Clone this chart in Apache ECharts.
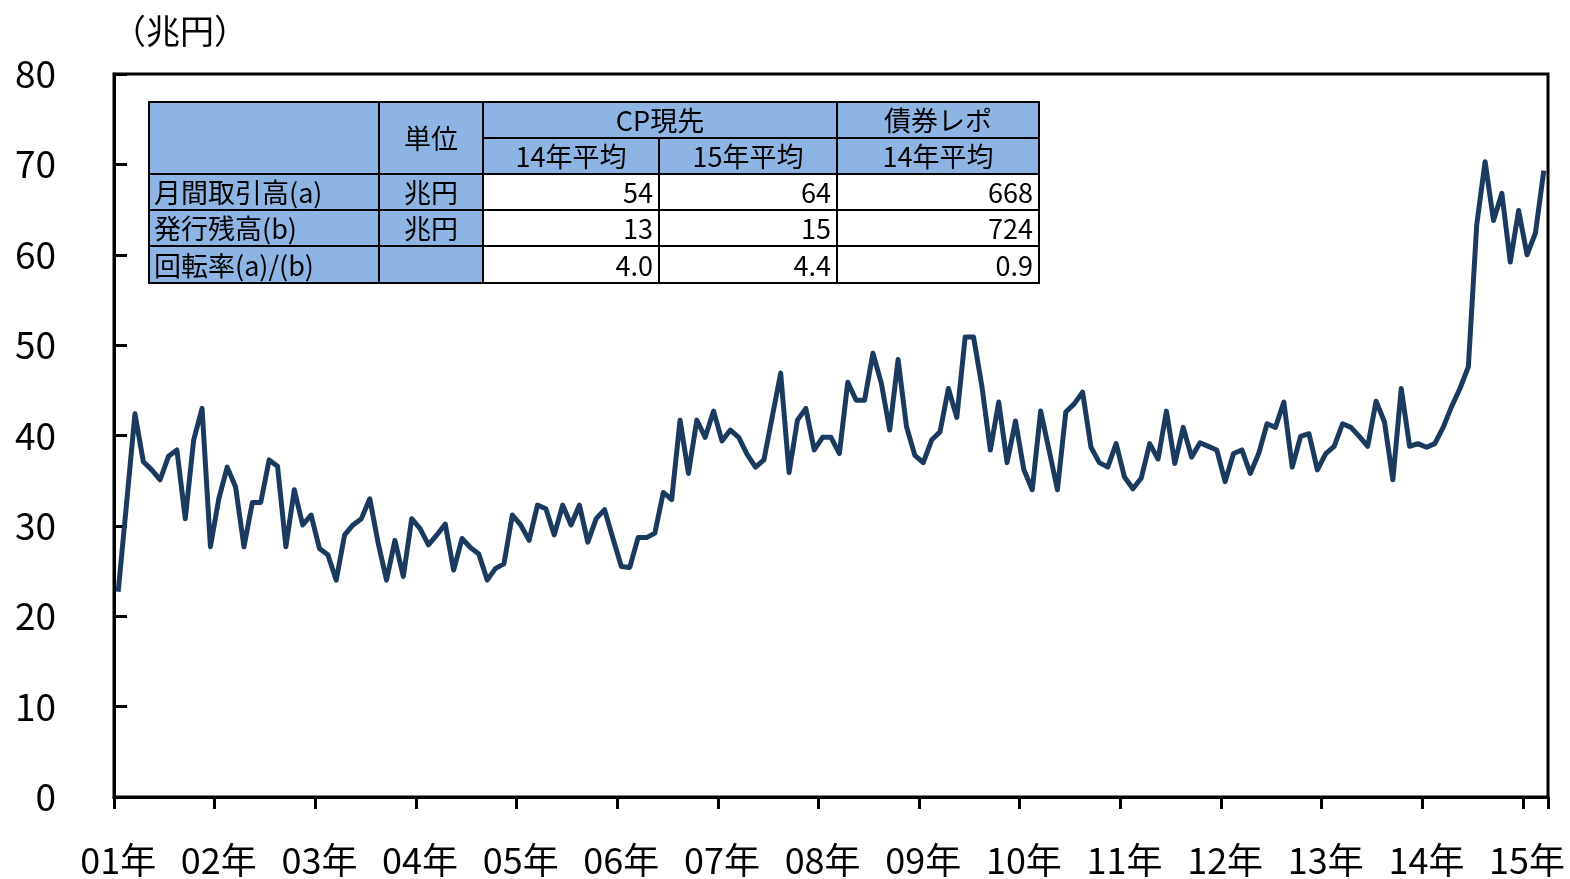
<!DOCTYPE html>
<html lang="ja">
<head>
    <meta charset="UTF-8">
    <script src="https://cdn.jsdelivr.net/npm/echarts@6/dist/echarts.min.js"></script>
    <title>CP現先 月間取引高</title>
    <style>
        html, body { margin: 0; padding: 0; background: #fff; }
        #main { width: 1570px; height: 879px; }
    </style>
</head>
<body>
<div id="main"></div>
<script>
    // 年ラベル（1月に表示）
    var years = ['01', '02', '03', '04', '05', '06', '07', '08', '09', '10', '11', '12', '13', '14', '15'];
    // 月間取引高（兆円）2001年1月～2015年3月
    var volume = [
        22.7, 32.5, 42.4, 37.1, 36.2, 35.1, 37.7, 38.4, 30.8, 39.5, 43.0, 27.7,
        33.0, 36.5, 34.3, 27.7, 32.6, 32.6, 37.3, 36.6, 27.7, 34.0, 30.1, 31.2,
        27.5, 26.8, 24.0, 29.0, 30.1, 30.8, 33.0, 28.1, 24.0, 28.4, 24.4, 30.8,
        29.7, 27.9, 29.0, 30.2, 25.1, 28.6, 27.6, 26.9, 24.0, 25.3, 25.8, 31.2,
        30.1, 28.4, 32.3, 31.9, 29.0, 32.3, 30.1, 32.3, 28.2, 30.8, 31.8, 28.6,
        25.5, 25.4, 28.7, 28.7, 29.2, 33.7, 32.9, 41.7, 35.8, 41.7, 39.8, 42.7,
        39.4, 40.6, 39.8, 37.9, 36.5, 37.3, 42.1, 46.9, 35.9, 41.7, 43.0, 38.4,
        39.8, 39.8, 38.0, 45.9, 43.9, 43.9, 49.1, 45.8, 40.6, 48.4, 41.0, 37.8,
        37.0, 39.5, 40.4, 45.2, 42.0, 50.9, 50.9, 45.4, 38.4, 43.7, 37.0, 41.6,
        36.2, 34.0, 42.7, 38.4, 34.0, 42.6, 43.5, 44.8, 38.7, 37.0, 36.5, 39.1,
        35.4, 34.1, 35.3, 39.1, 37.4, 42.7, 36.9, 40.9, 37.6, 39.2, 38.8, 38.4,
        34.9, 38.0, 38.4, 35.8, 38.0, 41.3, 40.9, 43.7, 36.5, 39.9, 40.2, 36.2,
        38.0, 38.8, 41.3, 40.9, 39.9, 38.8, 43.8, 41.5, 35.1, 45.2, 38.8, 39.1,
        38.7, 39.1, 40.9, 43.2, 45.2, 47.6, 63.3, 70.3, 63.8, 66.8, 59.2, 64.9,
        60.0, 62.4, 69.3
    ];

    // 表の中身
    var tableHead1 = ['', '単位', 'CP現先', '債券レポ'];
    var tableHead2 = ['14年平均', '15年平均', '14年平均'];
    var rowLabels = ['月間取引高(a)', '発行残高(b)', '回転率(a)/(b)'];
    var rowUnits = ['兆円', '兆円', ''];
    var cp14 = ['54', '13', '4.0'];
    var cp15 = ['64', '15', '4.4'];
    var repo14 = ['668', '724', '0.9'];

    var months = [];
    for (var i = 0; i < volume.length; i++) {
        months.push(years[Math.floor(i / 12)] + '年' + (i % 12 + 1) + '月');
    }

    var FONT = '"Noto Sans CJK JP", sans-serif';
    var BLUE = '#8db4e2';

    // 表のレイアウト（ピクセル）
    var cx = [149, 379, 483, 659, 837, 1039];
    var ry = [102, 138, 174, 210, 246, 283];

    var graphics = [];
    function cell(x1, y1, x2, y2, fill, text, align) {
        graphics.push({
            type: 'rect', z: 100,
            shape: {x: x1, y: y1, width: x2 - x1, height: y2 - y1},
            style: {fill: fill, stroke: '#000', lineWidth: 2}
        });
        if (text) {
            var tx = align === 'left' ? x1 + 5 : (align === 'right' ? x2 - 6 : (x1 + x2) / 2);
            graphics.push({
                type: 'text', z: 101,
                x: tx, y: (y1 + y2) / 2 + 1,
                style: {
                    text: text, fill: '#000', font: '27px ' + FONT,
                    align: align || 'center', verticalAlign: 'middle'
                }
            });
        }
    }
    cell(cx[0], ry[0], cx[1], ry[2], BLUE, tableHead1[0]);
    cell(cx[1], ry[0], cx[2], ry[2], BLUE, tableHead1[1]);
    cell(cx[2], ry[0], cx[4], ry[1], BLUE, tableHead1[2]);
    cell(cx[4], ry[0], cx[5], ry[1], BLUE, tableHead1[3]);
    for (var c = 0; c < 3; c++) {
        cell(cx[2 + c], ry[1], cx[3 + c], ry[2], BLUE, tableHead2[c]);
    }
    for (var r = 0; r < 3; r++) {
        cell(cx[0], ry[2 + r], cx[1], ry[3 + r], BLUE, rowLabels[r], 'left');
        cell(cx[1], ry[2 + r], cx[2], ry[3 + r], BLUE, rowUnits[r]);
        cell(cx[2], ry[2 + r], cx[3], ry[3 + r], '#fff', cp14[r], 'right');
        cell(cx[3], ry[2 + r], cx[4], ry[3 + r], '#fff', cp15[r], 'right');
        cell(cx[4], ry[2 + r], cx[5], ry[3 + r], '#fff', repo14[r], 'right');
    }
    // 単位
    graphics.push({
        type: 'text', x: 112, y: 31,
        style: {text: '（兆円）', fill: '#000', font: '34px ' + FONT, verticalAlign: 'middle'}
    });

    var myChart = echarts.init(document.getElementById('main'));

    var option = {
        animation: false,
        backgroundColor: '#fff',
        grid: {
            left: 114, right: 22, top: 74, bottom: 82,
            show: true, borderColor: '#000', borderWidth: 3
        },
        xAxis: {
            type: 'category',
            data: months,
            boundaryGap: true,
            axisLine: {show: true, lineStyle: {color: '#000', width: 3}},
            axisTick: {
                show: true,
                inside: false,
                length: 12,
                lineStyle: {color: '#000', width: 3},
                interval: function (idx) { return idx % 12 === 0; }
            },
            axisLabel: {
                interval: function (idx) { return idx % 12 === 0; },
                formatter: function (v) { return v.split('年')[0] + '年'; },
                color: '#000', fontSize: 36, fontFamily: FONT, margin: 45
            },
            splitLine: {show: false}
        },
        yAxis: {
            type: 'value',
            min: 0, max: 80, interval: 10,
            axisLine: {show: true, lineStyle: {color: '#000', width: 3}},
            axisTick: {show: true, inside: true, length: 13, lineStyle: {color: '#000', width: 3}},
            axisLabel: {color: '#000', fontSize: 37, fontFamily: FONT, margin: 58},
            splitLine: {show: false}
        },
        series: [{
            type: 'line',
            data: volume,
            symbol: 'none',
            lineStyle: {color: '#1b3a60', width: 5, join: 'round'}
        }],
        graphic: graphics
    };

    myChart.setOption(option);
</script>
</body>
</html>
